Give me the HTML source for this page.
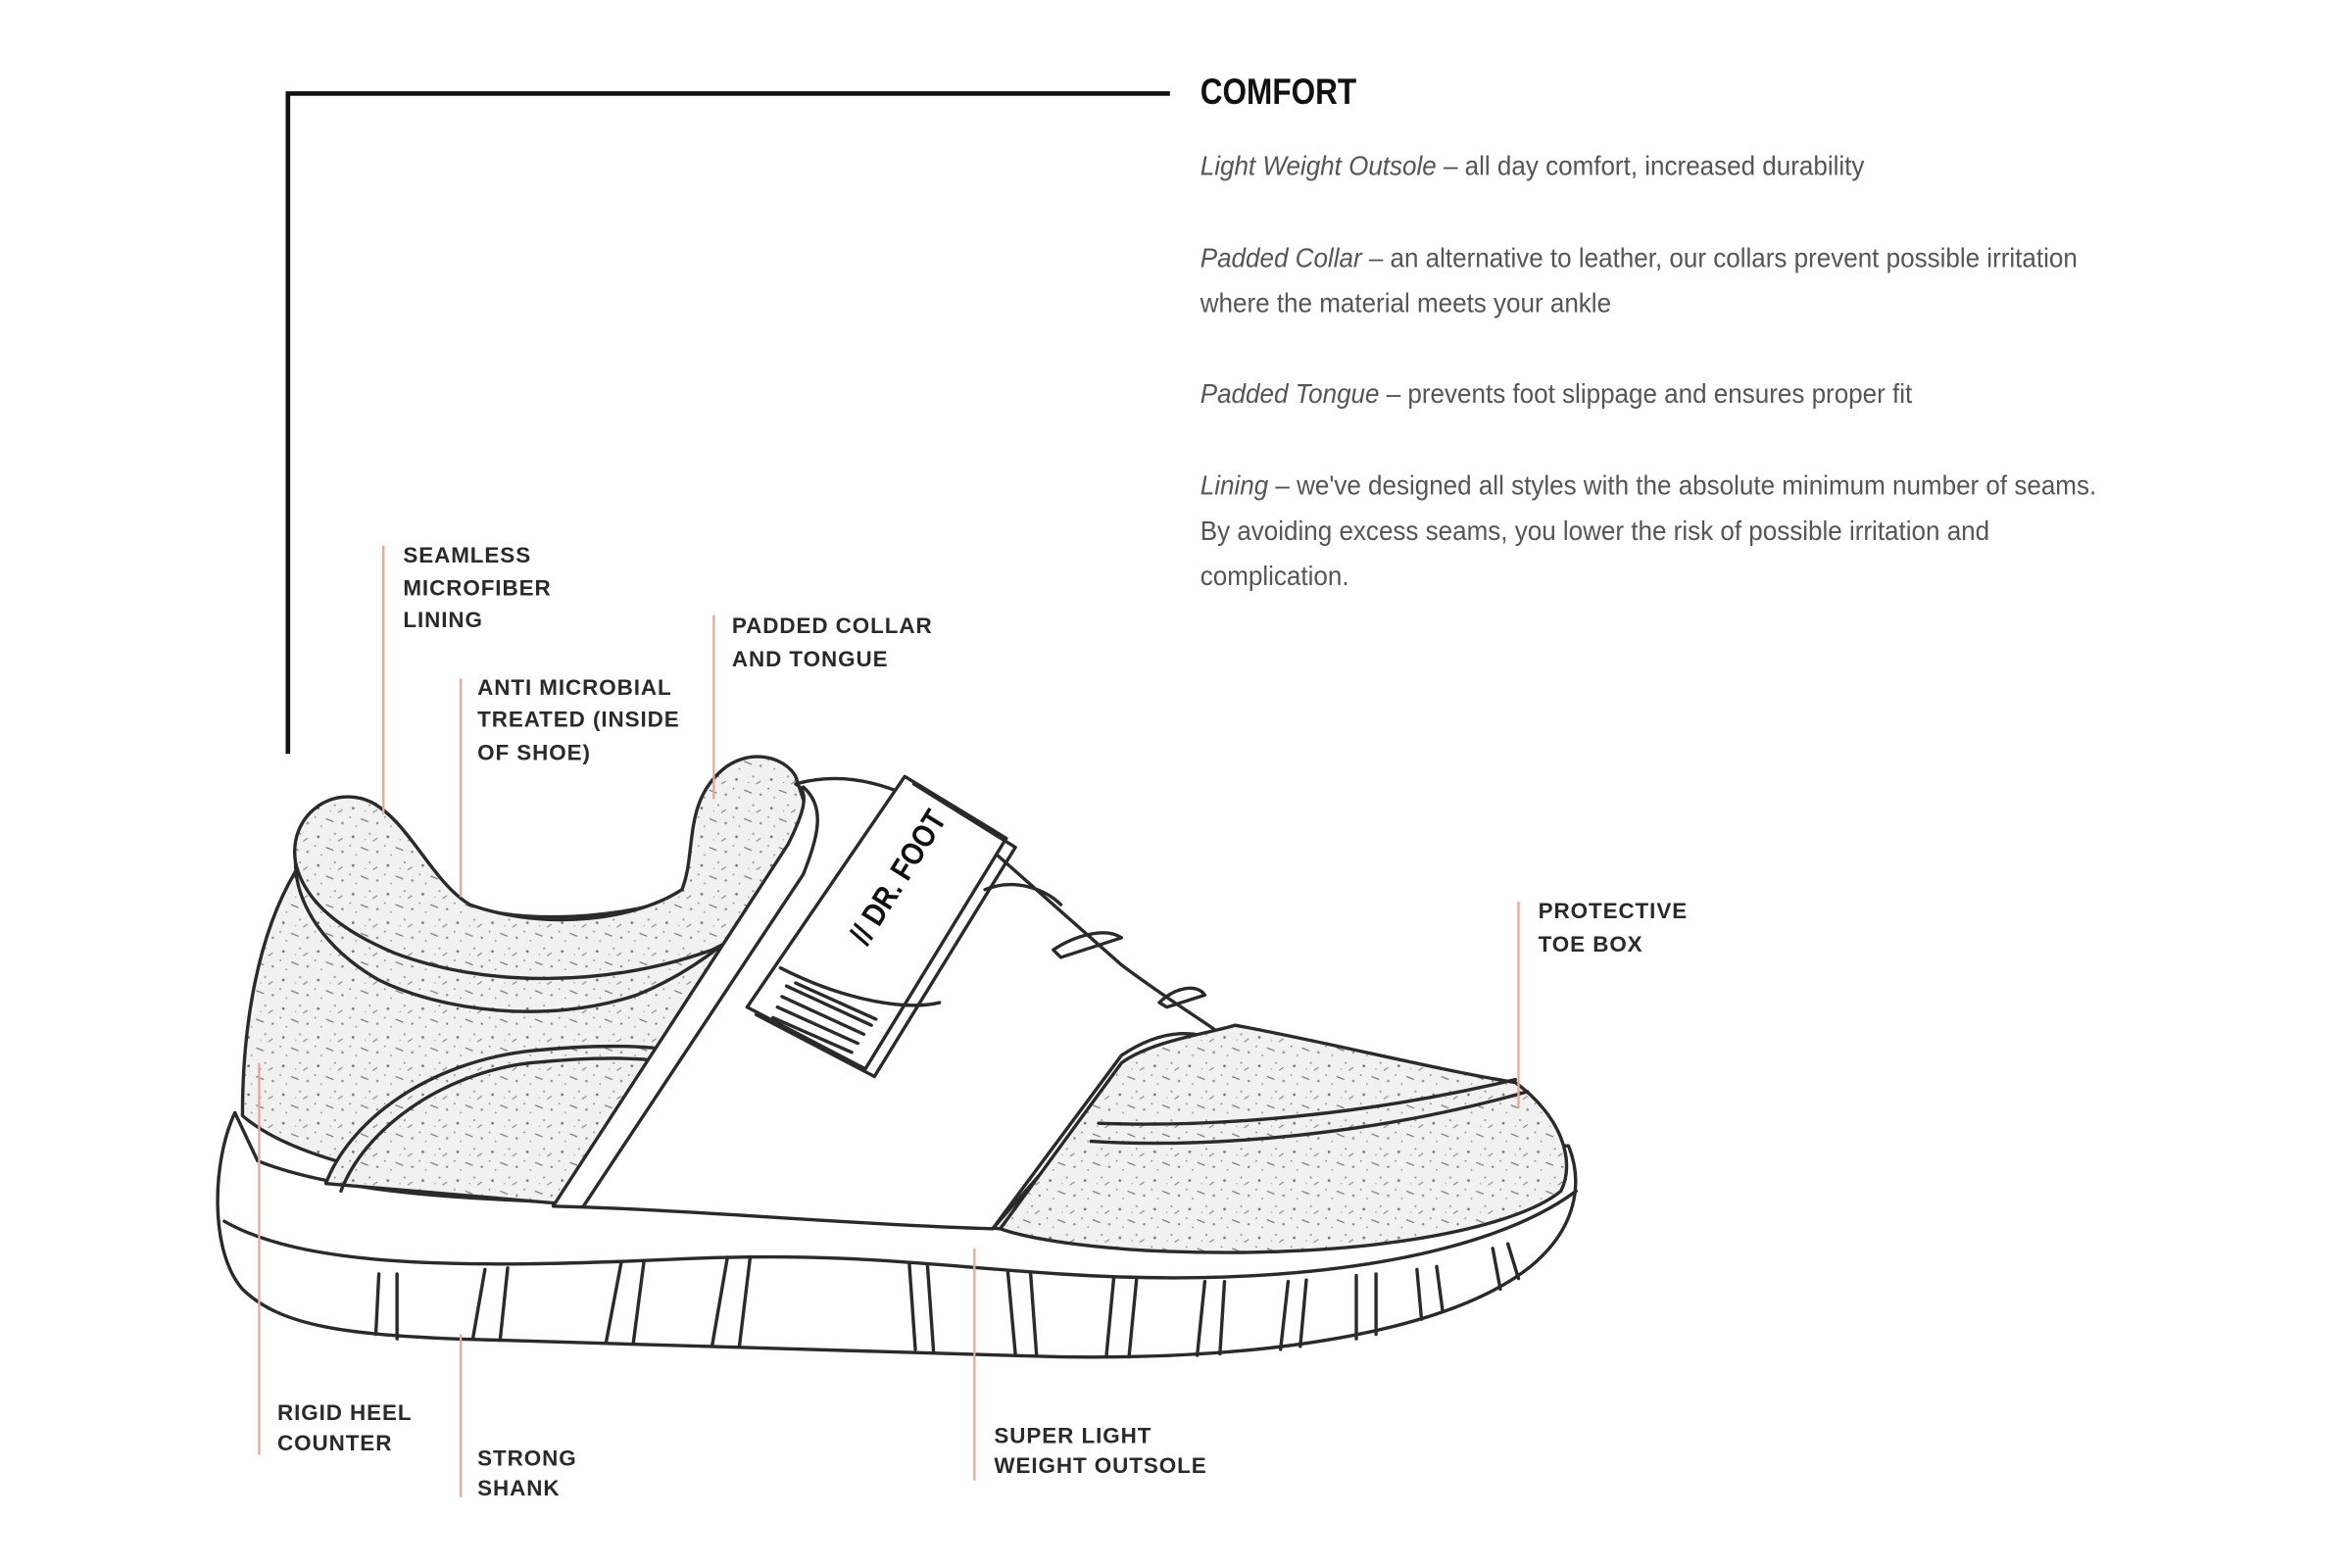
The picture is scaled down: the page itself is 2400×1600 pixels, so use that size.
<!DOCTYPE html>
<html><head><meta charset="utf-8"><style>
html,body{margin:0;padding:0;background:#fff;}
svg{display:block}
.lab{font-family:"Liberation Sans",sans-serif;font-weight:bold;font-size:14.5px;letter-spacing:0.6px;fill:#2a2a2a}
.body{font-family:"Liberation Sans Narrow","Liberation Sans",sans-serif;font-size:18px;fill:#555}
.it{font-style:italic}
.ln{stroke:#e8a898;stroke-width:1.5}
.sh{fill:none;stroke:#2a2a2a;stroke-width:2.2;stroke-linejoin:round;stroke-linecap:round}
.tx{fill:url(#spk);stroke:#2a2a2a;stroke-width:2.2;stroke-linejoin:round}
.wf{fill:#fff;stroke:#2a2a2a;stroke-width:2.2;stroke-linejoin:round}
</style></head><body>
<svg width="2400" height="1600" viewBox="0 0 1552 1040" preserveAspectRatio="none" xmlns="http://www.w3.org/2000/svg">
<defs>
<pattern id="spk" width="23" height="19" patternUnits="userSpaceOnUse">
<rect width="23" height="19" fill="#f1f1f1"/>
<circle cx="3" cy="4" r="0.9" fill="#777"/><circle cx="14" cy="2" r="0.7" fill="#999"/>
<path d="M8 11 l5 2" stroke="#777" stroke-width="0.8"/><circle cx="19" cy="14" r="0.8" fill="#888"/>
<circle cx="5" cy="16" r="0.6" fill="#999"/><path d="M16 7 l3 -2" stroke="#888" stroke-width="0.7"/>
<circle cx="11" cy="6" r="0.5" fill="#aaa"/><circle cx="1" cy="10" r="0.6" fill="#888"/>
</pattern>
</defs>

<!-- bracket -->
<polyline points="190,500 190,62 772,62" fill="none" stroke="#111" stroke-width="3"/>

<!-- text -->
<g transform="translate(792,0) scale(0.85,1)">
<text x="0" y="69" font-family="'Liberation Sans Narrow','Liberation Sans',sans-serif" font-weight="bold" font-size="24" fill="#111">COMFORT</text>
</g>
<g transform="translate(792,0) scale(0.935,1)">
<text class="body" x="0" y="116"><tspan class="it">Light Weight Outsole</tspan> – all day comfort, increased durability</text>
<text class="body" x="0" y="177"><tspan class="it">Padded Collar</tspan> – an alternative to leather, our collars prevent possible irritation</text>
<text class="body" x="0" y="207">where the material meets your ankle</text>
<text class="body" x="0" y="267"><tspan class="it">Padded Tongue</tspan> – prevents foot slippage and ensures proper fit</text>
<text class="body" x="0" y="328"><tspan class="it">Lining</tspan> – we've designed all styles with the absolute minimum number of seams.</text>
<text class="body" x="0" y="358">By avoiding excess seams, you lower the risk of possible irritation and</text>
<text class="body" x="0" y="388">complication.</text>
</g>

<!-- shoe: sole -->
<path class="wf" d="M155,738 C140,770 138,830 160,855 C185,880 230,885 300,888 L700,900 C850,902 960,880 1010,840 C1040,815 1045,785 1035,760 L1020,760 C1000,790 900,815 700,815 C600,812 500,800 400,798 C300,796 220,790 170,770 Z"/>
<path class="sh" d="M148,810 C200,840 300,842 450,835 C560,830 620,840 700,845 C850,855 980,835 1040,790"/>
<g class="sh">
<path d="M250,845 L248,885"/><path d="M262,845 L262,888"/><path d="M320,842 L312,888"/><path d="M335,841 L330,889"/>
<path d="M410,837 L400,890"/><path d="M425,836 L418,890"/><path d="M480,834 L470,892"/><path d="M495,834 L488,892"/>
<path d="M600,838 L604,895"/><path d="M612,839 L616,896"/><path d="M665,843 L670,898"/><path d="M680,844 L684,899"/>
<path d="M735,847 L730,900"/><path d="M750,848 L745,900"/><path d="M795,850 L790,899"/><path d="M808,850 L805,898"/>
<path d="M850,850 L845,895"/><path d="M862,849 L858,893"/><path d="M895,846 L895,888"/><path d="M908,845 L908,885"/>
<path d="M935,842 L938,875"/><path d="M948,840 L952,870"/><path d="M985,828 L990,855"/><path d="M995,825 L1002,848"/>
</g>

<!-- upper heel/quarter textured -->
<path class="tx" d="M195,578 C170,620 160,680 160,740 C200,775 300,790 400,796 C500,800 600,810 660,815 L720,740 L560,600 L520,540 C480,560 470,585 450,595 C400,612 330,612 305,598 C285,585 270,545 240,545 C220,548 200,560 195,578 Z"/>
<!-- collar padding -->
<path class="tx" d="M195,572 C190,540 220,520 245,532 C270,545 285,585 310,600 C360,618 420,610 450,590 C460,565 450,530 480,508 C500,495 520,505 525,515 L540,560 C510,600 470,640 420,660 C360,680 290,670 250,650 C215,630 195,600 195,572 Z"/>
<path class="sh" d="M195,572 C200,595 220,615 260,632 C320,655 400,655 470,630 C500,615 520,600 530,580"/>
<!-- lower quarter panel -->
<path class="tx" d="M215,785 C230,745 280,705 350,697 C400,692 430,694 445,697 L390,800 Z"/>
<path class="sh" d="M225,790 C240,750 290,712 350,705 C400,700 430,702 440,705"/>
<!-- vamp white band -->
<path class="wf" d="M365,800 L520,560 C530,540 535,525 525,520 C560,510 600,520 650,560 L740,640 C780,670 800,680 810,690 L720,740 L655,815 C560,812 450,802 365,800 Z"/>
<path class="sh" d="M385,800 L530,580 C540,555 545,535 530,522"/>
<path class="sh" d="M655,815 L740,700 C770,680 790,685 805,690"/>
<!-- toe textured -->
<path class="tx" d="M660,815 L740,705 C760,690 800,685 815,680 C870,690 950,710 1000,718 C1030,740 1040,770 1030,790 C1000,815 900,835 770,830 C720,828 680,822 660,815 Z"/>
<path class="sh" d="M725,745 C800,748 900,740 1000,716"/>
<path class="sh" d="M720,757 C800,762 910,752 1008,724"/>
<!-- laces -->
<path class="sh" d="M695,630 C710,620 730,615 740,622 L700,635 Z"/>
<path class="sh" d="M765,665 C775,655 790,652 795,660 L770,668 Z"/>
<path class="sh" d="M650,590 C670,582 690,590 700,600"/>
<!-- strap -->
<path class="wf" d="M597,515 L664,556 L571,709 L493,668 Z"/>
<path class="sh" d="M603,520 L670,562 L577,714 L499,673"/>
<path class="sh" d="M515,642 C560,665 600,670 620,665"/>
<g class="sh" stroke-width="1.6"><path d="M519,654 L575,680"/><path d="M516,661 L570,686"/><path d="M513,668 L566,692"/><path d="M510,675 L562,698"/><path d="M525,652 L578,676"/></g>
<g transform="translate(572,628) rotate(-58) scale(0.85,1)">
<text x="0" y="0" font-family="'Liberation Sans Narrow','Liberation Sans',sans-serif" font-weight="bold" font-size="21" fill="#111">// DR. FOOT</text>
</g>

<!-- label leader lines -->
<line class="ln" x1="253" y1="362" x2="253" y2="540"/>
<line class="ln" x1="304" y1="450" x2="304" y2="595"/>
<line class="ln" x1="471" y1="408" x2="471" y2="530"/>
<line class="ln" x1="1002" y1="598" x2="1002" y2="735"/>
<line class="ln" x1="171" y1="705" x2="171" y2="965"/>
<line class="ln" x1="304" y1="885" x2="304" y2="993"/>
<line class="ln" x1="643" y1="828" x2="643" y2="982"/>

<!-- labels -->
<text class="lab" x="266" y="373">SEAMLESS</text>
<text class="lab" x="266" y="395">MICROFIBER</text>
<text class="lab" x="266" y="416">LINING</text>
<text class="lab" x="315" y="461">ANTI MICROBIAL</text>
<text class="lab" x="315" y="482">TREATED (INSIDE</text>
<text class="lab" x="315" y="504">OF SHOE)</text>
<text class="lab" x="483" y="420">PADDED COLLAR</text>
<text class="lab" x="483" y="442">AND TONGUE</text>
<text class="lab" x="1015" y="609">PROTECTIVE</text>
<text class="lab" x="1015" y="631">TOE BOX</text>
<text class="lab" x="183" y="942">RIGID HEEL</text>
<text class="lab" x="183" y="962">COUNTER</text>
<text class="lab" x="315" y="972">STRONG</text>
<text class="lab" x="315" y="992">SHANK</text>
<text class="lab" x="656" y="957">SUPER LIGHT</text>
<text class="lab" x="656" y="977">WEIGHT OUTSOLE</text>
</svg>
</body></html>
